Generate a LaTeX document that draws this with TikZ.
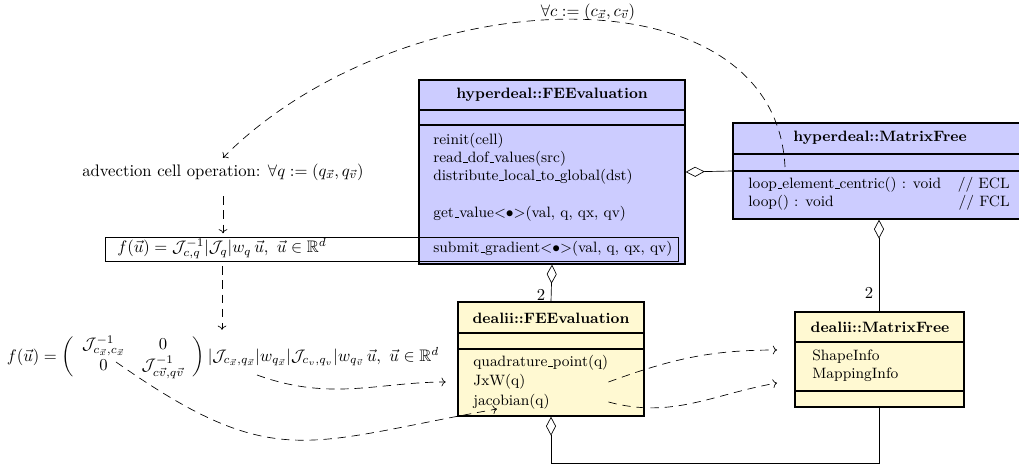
\documentclass[tikz,border=0pt]{standalone}
\usepackage{amsmath}
\usepackage{amssymb}
\usetikzlibrary{arrows.meta,fit}

\definecolor{hdblue}{RGB}{204,204,255}
\definecolor{dlyellow}{RGB}{255,249,210}

% short underscore as in the old text encoding
\renewcommand{\_}{\leavevmode\kern.06em\vbox{\hrule width.3em}}

\begin{document}
\begin{tikzpicture}[
    x=0.6pt, y=0.6pt,
    classbox/.style={draw=black, thick, inner sep=0pt},
    classname/.style={font=\small\bfseries},
    member/.style={anchor=west, inner sep=0pt, font=\small},
    flow/.style={->, dash pattern=on 5pt off 3.5pt},
    aggr/.style={{Diamond[open, length=11.4pt, width=6pt]}-}
]
\useasboundingbox (0,0) rectangle (1019,468);

% hyperdeal::FEEvaluation
\node[classbox, fill=hdblue, fit={(419,204) (685,388)}] (hdfe) {};
\draw[thick] (419,358) -- (685,358);
\draw[thick] (419,343) -- (685,343);
\node[classname] (hdfe-name) at (552,373) {hyperdeal::FEEvaluation};
\node[member] (hdfe-reinit) at (433,327) {reinit(cell)};
\node[member] (hdfe-read) at (433,309) {read\_dof\_values(src)};
\node[member] (hdfe-dist) at (433,291) {distribute\_local\_to\_global(dst)};
\node[member] (hdfe-get) at (433,254) {get\_value<$\bullet$>(val, q, qx, qv)};
\node[member] (hdfe-submit) at (433,219) {submit\_gradient<$\bullet$>(val, q, qx, qv)};

% flux box reaching into the class
\node[draw, inner sep=0pt, fit={(105,207) (678,231)}] (fbox) {};
\node (ftext) at (222,219) {$f(\vec{u}) = \mathcal{J}^{-1}_{c,q}|\mathcal{J}_q|w_q\,\vec{u},\ \vec{u}\in\mathbb{R}^d$};

% hyperdeal::MatrixFree
\node[classbox, fill=hdblue, fit={(733,249) (1025,345)}] (hdmf) {};
\draw[thick] (733,314) -- (1025,314);
\draw[thick] (733,297) -- (1025,297);
\node[classname] (hdmf-name) at (880,330) {hyperdeal::MatrixFree};
\node[member] (hdmf-ecl) at (748,283) {loop\_element\_centric() : void};
\node[member] (hdmf-fcl) at (748,265) {loop() : void};
\node[member, anchor=east] (hdmf-ecl-note) at (1010,283) {// ECL};
\node[member, anchor=east] (hdmf-fcl-note) at (1010,265) {// FCL};

% dealii::FEEvaluation
\node[classbox, fill=dlyellow, fit={(458,52) (644,166)}] (dfe) {};
\draw[thick] (458,135) -- (644,135);
\draw[thick] (458,119) -- (644,119);
\node[classname] (dfe-name) at (551,150) {dealii::FEEvaluation};
\node[member] (dfe-qp) at (473,105) {quadrature\_point(q)};
\node[member] (dfe-jxw) at (473,86) {JxW(q)};
\node[member] (dfe-jac) at (473,66) {jacobian(q)};

% dealii::MatrixFree
\node[classbox, fill=dlyellow, fit={(795,61) (964,156)}] (dmf) {};
\draw[thick] (795,126) -- (964,126);
\draw[thick] (795,77) -- (964,77);
\node[classname] (dmf-name) at (880,141) {dealii::MatrixFree};
\node[member] (dmf-shape) at (812,111) {ShapeInfo};
\node[member] (dmf-map) at (812,93) {MappingInfo};

% cell operation and split flux
\node (adv) at (223,296) {advection cell operation: $\forall q := (q_{\vec{x}}, q_{\vec{v}})$};
\node (fsplit) at (223,111) {$f(\vec{u}) = \left(\begin{array}{cc}
    \mathcal{J}^{-1}_{c_{\vec{x}},c_{\vec{x}}} & 0 \\
    0 & \mathcal{J}^{-1}_{c\vec{v},q\vec{v}}
  \end{array}\right)|\mathcal{J}_{c_{\vec{x}},q_{\vec{x}}}|w_{q_{\vec{x}}}|\mathcal{J}_{c_v,q_v}|w_{q_{\vec{v}}}\,\vec{u},\ \vec{u}\in\mathbb{R}^d$};
\node[inner sep=1pt] (cellloop-label) at (588,456) {$\forall c := (c_{\vec{x}}, c_{\vec{v}})$};

% free ends of the data flows
\coordinate (cellloop) at (785,301);
\coordinate (jdet) at (257,93);
\coordinate (zero) at (116,106);
\coordinate (jacin) at (497,59);
\coordinate (shapein) at (777,118);
\coordinate (mapin) at (777,85);

% aggregations
\draw[aggr] (hdfe.east) -- (hdmf.west);
\draw[aggr] (hdmf.south) -- node[pos=0.8, left] {2} (hdmf.south |- dmf.north);
\draw[aggr] (hdfe.south) -- node[pos=0.82, left] {2} (dfe.north);
\draw[aggr] (dfe.south) -- ++(0,-47) -| (dmf.south);

% data flows
\draw[flow] (cellloop) .. controls (775,505) and (400,488) .. (adv.north);
\draw[flow, shorten <=6pt, shorten >=2pt] (adv.south) -- (adv.south |- fbox.north);
\draw[flow, shorten <=3pt] (fbox.south -| ftext) -- (fsplit.north -| ftext);
\draw[flow, shorten >=7pt] (jdet) to[out=-20, in=180] (dfe.west |- dfe-jxw);
\draw[flow] (zero) to[out=-35, in=190, looseness=1.3] (jacin);
\draw[flow] (dfe-qp.east |- dfe-jxw) to[out=20, in=180] (shapein);
\draw[flow] (dfe-qp.east |- dfe-jac) to[out=-15, in=190] (mapin);

\end{tikzpicture}
\end{document}
